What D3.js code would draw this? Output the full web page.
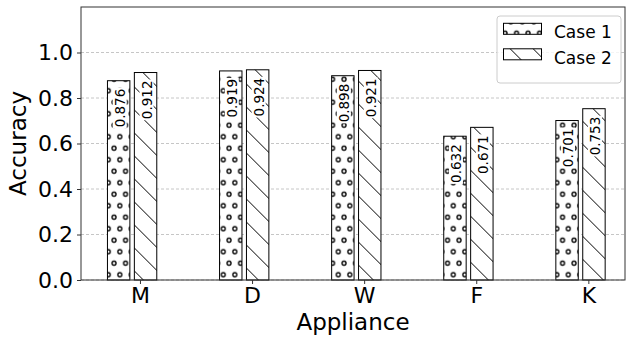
<!DOCTYPE html>
<html>
<head>
<meta charset="utf-8">
<style>
body { margin: 0; background: #fff; }
svg { font-family: "DejaVu Sans", sans-serif; display: block; }
</style>
</head>
<body>
<div id="chart"></div>
<script src="https://cdn.jsdelivr.net/npm/d3@7"></script>
<script>
// data
var categories = ["M", "D", "W", "F", "K"];
var case1 = [0.876, 0.919, 0.898, 0.632, 0.701];
var case2 = [0.912, 0.924, 0.921, 0.671, 0.753];
var seriesNames = ["Case 1", "Case 2"];
var yTicks = [0, 0.2, 0.4, 0.6, 0.8, 1.0];

var W = 630, H = 339;
var plotL = 81, plotR = 625, plotT = 7, plotB = 280;

var svg = d3.select("#chart").append("svg")
    .attr("width", W)
    .attr("height", H);

var x = d3.scaleLinear().domain([-0.526, 4.327]).range([plotL, plotR]);
var y = d3.scaleLinear().domain([0, 1.2]).range([plotB, plotT]);

// hatch patterns
var defs = svg.append("defs");
var dots = defs.append("pattern")
    .attr("id", "dots")
    .attr("patternUnits", "userSpaceOnUse")
    .attr("x", 108.3).attr("y", 182.7)
    .attr("width", 11.5).attr("height", 23);
[[0, 0], [11.5, 0], [0, 23], [11.5, 23], [5.75, 11.5]].forEach(function(p) {
  dots.append("circle")
      .attr("cx", p[0]).attr("cy", p[1]).attr("r", 2)
      .attr("fill", "none").attr("stroke", "#000").attr("stroke-width", 1.3);
});
var slash = defs.append("pattern")
    .attr("id", "slash")
    .attr("patternUnits", "userSpaceOnUse")
    .attr("x", 0).attr("y", 21.6)
    .attr("width", 23).attr("height", 23);
[[-2, -2, 25, 25], [-2, 21, 2, 25], [21, -2, 25, 2]].forEach(function(l) {
  slash.append("line")
      .attr("x1", l[0]).attr("y1", l[1]).attr("x2", l[2]).attr("y2", l[3])
      .attr("stroke", "#000").attr("stroke-width", 1);
});
var fills = ["url(#dots)", "url(#slash)"];

// grid
svg.append("g").selectAll("line")
  .data(yTicks)
  .enter().append("line")
    .attr("x1", plotL).attr("x2", plotR)
    .attr("y1", function(d) { return y(d); })
    .attr("y2", function(d) { return y(d); })
    .attr("stroke", "#b8b8b8")
    .attr("stroke-width", 0.8)
    .attr("stroke-dasharray", "3,2");

// bars
var offsets = [[-0.29, -0.09], [-0.05, 0.15]];
var series = [case1, case2];
series.forEach(function(vals, s) {
  var g = svg.append("g");
  vals.forEach(function(v, i) {
    var x0 = x(i + offsets[s][0]), x1 = x(i + offsets[s][1]);
    g.append("rect")
        .attr("x", x0).attr("y", y(v))
        .attr("width", x1 - x0).attr("height", y(0) - y(v))
        .attr("fill", "#fff");
    g.append("rect")
        .attr("x", x0).attr("y", y(v))
        .attr("width", x1 - x0).attr("height", y(0) - y(v))
        .attr("fill", fills[s])
        .attr("stroke", "#000").attr("stroke-width", 1);
    // value label, rotated, with white box
    var cx = (x0 + x1) / 2 + 6, ty = y(v) + 8;
    var lab = g.append("g").attr("transform", "translate(" + cx + "," + ty + ") rotate(-90)");
    var t = lab.append("text")
        .attr("text-anchor", "end")
        .attr("font-size", 13.5)
        .attr("fill", "#000")
        .text(v.toFixed(3));
    var bb = t.node().getBBox();
    lab.insert("rect", "text")
        .attr("x", bb.x - 1).attr("y", bb.y + 1)
        .attr("width", bb.width + 2).attr("height", bb.height - 2)
        .attr("fill", "#fff");
  });
});

// frame
svg.append("rect")
    .attr("x", plotL).attr("y", plotT)
    .attr("width", plotR - plotL).attr("height", plotB - plotT)
    .attr("fill", "none").attr("stroke", "#333").attr("stroke-width", 1);

// axes
var yAxis = svg.append("g")
    .attr("transform", "translate(" + plotL + ",0)")
    .call(d3.axisLeft(y).tickValues(yTicks).tickFormat(d3.format(".1f")).tickSize(4).tickPadding(4));
yAxis.select(".domain").remove();
yAxis.attr("font-size", 22).attr("font-family", "DejaVu Sans");
yAxis.selectAll("text").attr("fill", "#000");
yAxis.selectAll("line").attr("stroke", "#333");

var xAxis = svg.append("g")
    .attr("transform", "translate(0," + plotB + ")")
    .call(d3.axisBottom(x).tickValues(d3.range(categories.length))
      .tickFormat(function(d) { return categories[d]; }).tickSize(4).tickPadding(3));
xAxis.select(".domain").remove();
xAxis.attr("font-size", 22).attr("font-family", "DejaVu Sans");
xAxis.selectAll("text").attr("fill", "#000");
xAxis.selectAll("line").attr("stroke", "#333");

// axis titles
svg.append("text")
    .attr("x", (plotL + plotR) / 2).attr("y", 330)
    .attr("text-anchor", "middle")
    .attr("font-size", 23)
    .text("Appliance");
svg.append("text")
    .attr("transform", "translate(26," + ((plotT + plotB) / 2) + ") rotate(-90)")
    .attr("text-anchor", "middle")
    .attr("font-size", 23)
    .text("Accuracy");

// legend
var lg = svg.append("g");
lg.append("rect")
    .attr("x", 497).attr("y", 16).attr("width", 124).attr("height", 67)
    .attr("rx", 3)
    .attr("fill", "#fff").attr("fill-opacity", 0.8)
    .attr("stroke", "#ccc");
seriesNames.forEach(function(name, s) {
  var ly = 23.3 + s * 25.5;
  lg.append("rect")
      .attr("x", 503.5).attr("y", ly).attr("width", 38).attr("height", 11)
      .attr("fill", "#fff");
  lg.append("rect")
      .attr("x", 503.5).attr("y", ly).attr("width", 38).attr("height", 11)
      .attr("fill", fills[s]).attr("stroke", "#000").attr("stroke-width", 1);
  lg.append("text")
      .attr("x", 554).attr("y", ly + 15)
      .attr("font-size", 17)
      .text(name);
});
</script>
</body>
</html>
